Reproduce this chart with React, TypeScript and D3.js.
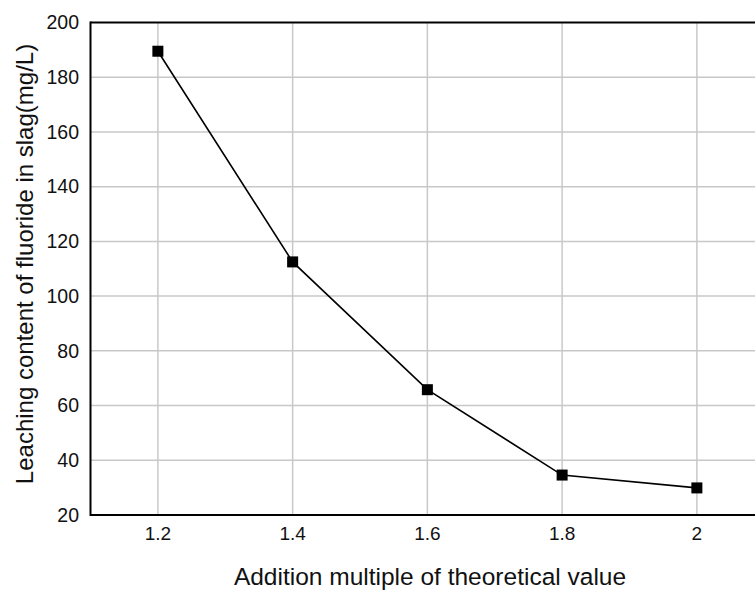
import { useEffect, useRef } from "react";
import * as d3 from "d3";

const multiples = [1.2, 1.4, 1.6, 1.8, 2];
const leaching = [189.5, 112.5, 65.8, 34.6, 29.9];
const xTicks = [1.2, 1.4, 1.6, 1.8, 2];
const yTicks = [20, 40, 60, 80, 100, 120, 140, 160, 180, 200];

const W = 755;
const H = 590;

const App = () => {
  const svgRef = useRef<SVGSVGElement>(null);

  useEffect(() => {
    if (!svgRef.current) return;
    const svg = d3.select(svgRef.current);
    svg.selectAll("*").remove();

    const left = 90.5;
    const top = 22.5;
    const bottom = 515;
    const step = 134.75; // px per 0.2

    // domain runs past the window on the right, like the source
    const x = d3.scaleLinear().domain([1.1, 2.1]).range([left, left + step * 5]);
    const y = d3.scaleLinear().domain([20, 200]).range([bottom, top]);
    const font = "'Liberation Sans', Arial, sans-serif";

    svg.append("rect").attr("width", W).attr("height", H).attr("fill", "#fff");

    // grid
    const grid = svg.append("g").attr("stroke", "#c8c8c8").attr("stroke-width", 1.5);
    grid.selectAll("line.v")
      .data(xTicks)
      .enter()
      .append("line")
      .attr("x1", (d) => x(d)).attr("x2", (d) => x(d))
      .attr("y1", top).attr("y2", bottom);
    grid.selectAll("line.h")
      .data(yTicks.slice(1, -1))
      .enter()
      .append("line")
      .attr("x1", left).attr("x2", W)
      .attr("y1", (d) => y(d)).attr("y2", (d) => y(d));

    // frame
    const frame = svg.append("g").attr("stroke", "#000").attr("stroke-width", 2).attr("fill", "none");
    frame.append("line").attr("x1", left).attr("x2", W).attr("y1", top).attr("y2", top);
    frame.append("line").attr("x1", left).attr("x2", W).attr("y1", bottom).attr("y2", bottom);
    frame.append("line").attr("x1", left).attr("x2", left).attr("y1", top - 1).attr("y2", bottom + 1);

    // tick labels
    svg.append("g")
      .selectAll("text")
      .data(yTicks)
      .enter()
      .append("text")
      .attr("x", 79)
      .attr("y", (d) => y(d))
      .attr("dy", "0.35em")
      .attr("text-anchor", "end")
      .attr("font-family", font)
      .attr("font-size", 19.5)
      .attr("fill", "#111")
      .text((d) => d);

    svg.append("g")
      .selectAll("text")
      .data(xTicks)
      .enter()
      .append("text")
      .attr("x", (d) => x(d))
      .attr("y", 540)
      .attr("text-anchor", "middle")
      .attr("font-family", font)
      .attr("font-size", 19)
      .attr("fill", "#111")
      .text((d) => d);

    // axis titles
    svg.append("text")
      .attr("transform", `translate(33,${264}) rotate(-90)`)
      .attr("text-anchor", "middle")
      .attr("font-family", font)
      .attr("font-size", 24)
      .attr("fill", "#111")
      .text("Leaching content of fluoride in slag(mg/L)");

    svg.append("text")
      .attr("x", 430)
      .attr("y", 585)
      .attr("text-anchor", "middle")
      .attr("font-family", font)
      .attr("font-size", 24.5)
      .attr("fill", "#111")
      .text("Addition multiple of theoretical value");

    // series
    const pts = multiples.map((m, i) => [m, leaching[i]] as [number, number]);
    const line = d3.line<[number, number]>().x((d) => x(d[0])).y((d) => y(d[1]));
    svg.append("path")
      .attr("d", line(pts))
      .attr("fill", "none")
      .attr("stroke", "#000")
      .attr("stroke-width", 1.6);

    const s = 11;
    svg.append("g")
      .selectAll("rect")
      .data(pts)
      .enter()
      .append("rect")
      .attr("x", (d) => x(d[0]) - s / 2)
      .attr("y", (d) => y(d[1]) - s / 2)
      .attr("width", s)
      .attr("height", s)
      .attr("fill", "#000");
  }, []);

  return (
    <svg
      ref={svgRef}
      width={W}
      height={H}
      style={{ position: "absolute", left: 0, top: 0, display: "block" }}
    />
  );
};

export default App;
